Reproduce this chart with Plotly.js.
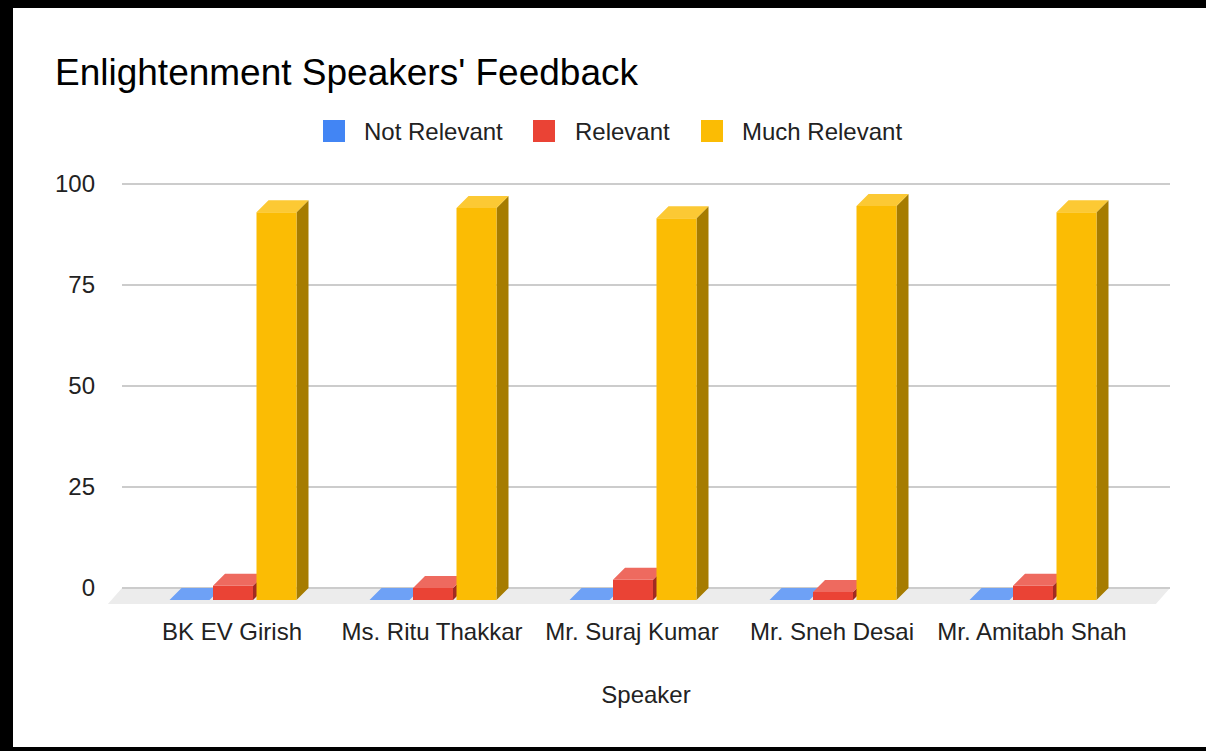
<!DOCTYPE html>
<html>
<head>
<meta charset="utf-8">
<script src="https://cdn.plot.ly/plotly-3.0.1.min.js"></script>
<style>
  html, body { margin: 0; padding: 0; background: #000; width: 1206px; height: 751px; overflow: hidden; }
  #chart { position: absolute; left: 13px; top: 8px; width: 1193px; height: 739px; background: #fff; }
</style>
</head>
<body>
<div id="chart"></div>
<script>
// ---- data ----
const speakers = ['BK EV Girish', 'Ms. Ritu Thakkar', 'Mr. Suraj Kumar', 'Mr. Sneh Desai', 'Mr. Amitabh Shah'];
const seriesNames = ['Not Relevant', 'Relevant', 'Much Relevant'];
const notRelevant = [0, 0, 0, 0, 0];
const relevant = [3.5, 3, 5, 2, 3.5];
const muchRelevant = [96, 97, 94.5, 97.5, 96];
const yTicks = [0, 25, 50, 75, 100];

// ---- style ----
const FONT = 'Liberation Sans, Arial, sans-serif';
const faceColors = [
  { front: '#4285F4', top: '#6ea1f6', side: '#2c5eb6' },
  { front: '#EA4335', top: '#ee6a5f', side: '#a12a22' },
  { front: '#FBBC04', top: '#fcc934', side: '#a67c00' }
];
// plot area in page pixels
const PX_L = 122, PX_R = 1170, PY_T = 180, PY_B = 604;
const X_RANGE = [-0.55, 4.69];
const PX_PER_UNIT_Y = 4.04;
const Y_RANGE = [-(PY_B - 588) / PX_PER_UNIT_Y, 100 + (184 - PY_T) / PX_PER_UNIT_Y];
const W = 0.2;                  // bar width (category units)
const OFFS = [-0.2175, 0, 0.2175];
const SHIFT = 0.005;
const DX = 12 / 200;            // depth in x units
const D = 12 / PX_PER_UNIT_Y;   // depth in y units

const px2x = p => (p - PX_L) / (PX_R - PX_L);
const py2y = p => (PY_B - p) / (PY_B - PY_T);

const series = [notRelevant, relevant, muchRelevant];
const traces = [];
series.forEach((vals, s) => {
  const fx = [], fy = [], tx = [], ty = [], sx = [], sy = [];
  vals.forEach((v, i) => {
    const xl = i + SHIFT + OFFS[s] - W / 2, xr = xl + W;
    sx.push(xr, xr + DX, xr + DX, xr, xr, null);
    sy.push(-D, 0, v, v - D, -D, null);
    fx.push(xl, xr, xr, xl, xl, null);
    fy.push(-D, -D, v - D, v - D, -D, null);
    tx.push(xl, xr, xr + DX, xl + DX, xl, null);
    ty.push(v - D, v - D, v, v, v - D, null);
  });
  const base = { type: 'scatter', mode: 'none', fill: 'toself', showlegend: false, hoverinfo: 'skip', name: seriesNames[s] };
  traces.push(Object.assign({}, base, { x: sx, y: sy, fillcolor: faceColors[s].side }));
  traces.push(Object.assign({}, base, { x: fx, y: fy, fillcolor: faceColors[s].front }));
  traces.push(Object.assign({}, base, { x: tx, y: ty, fillcolor: faceColors[s].top }));
});

// floor + baseline
const shapes = [
  { type: 'path', xref: 'paper', yref: 'y', layer: 'below',
    path: `M 0,0 L 1,0 L ${px2x(1155)},${-(605 - 588) / PX_PER_UNIT_Y} L ${px2x(107)},${-(605 - 588) / PX_PER_UNIT_Y} Z`,
    fillcolor: '#ececec', line: { width: 0 } },
  { type: 'line', xref: 'paper', yref: 'y', layer: 'below', x0: 0, x1: 1, y0: 0, y1: 0,
    line: { color: '#444444', width: 2 } }
];

// legend (manual, large squares)
const legendSquares = [323, 533, 701];
const legendTexts = [362, 573, 740];
const annotations = [];
seriesNames.forEach((n, s) => {
  shapes.push({ type: 'rect', xref: 'paper', yref: 'paper',
    x0: px2x(legendSquares[s]), x1: px2x(legendSquares[s] + 22),
    y0: py2y(142), y1: py2y(120),
    fillcolor: faceColors[s].front, line: { width: 0 } });
  annotations.push({ xref: 'paper', yref: 'paper', x: px2x(legendTexts[s]), y: py2y(131),
    xanchor: 'left', yanchor: 'middle', showarrow: false, text: n,
    font: { family: FONT, size: 24, color: '#222222' } });
});

const layout = {
  width: 1193, height: 739,
  margin: { l: PX_L - 13, r: 1193 - (PX_R - 13), t: PY_T - 8, b: 739 - (PY_B - 8), autoexpand: false },
  paper_bgcolor: '#ffffff', plot_bgcolor: '#ffffff',
  showlegend: false,
  title: { text: "Enlightenment Speakers' Feedback", xref: 'container', yref: 'container',
    x: (55 - 13) / 1193, xanchor: 'left', y: 1 - (72 - 8) / 739, yanchor: 'middle',
    font: { family: FONT, size: 37, color: '#000000' } },
  xaxis: { type: 'linear', range: X_RANGE, tickvals: speakers.map((_, i) => i), ticktext: speakers,
    showgrid: false, zeroline: false, showline: false, ticks: '', ticklabelstandoff: 11,
    tickfont: { family: FONT, size: 24, color: '#222222' }, fixedrange: true,
    title: { text: 'Speaker', standoff: 42, font: { family: FONT, size: 24, color: '#222222' } } },
  yaxis: { range: Y_RANGE, tickvals: yTicks, showgrid: true, gridcolor: '#cccccc', gridwidth: 1.5,
    zeroline: false, showline: false, ticks: '', ticklabelstandoff: 26,
    tickfont: { family: FONT, size: 24, color: '#222222' }, fixedrange: true },
  shapes: shapes,
  annotations: annotations
};

Plotly.newPlot('chart', traces, layout, { displayModeBar: false, staticPlot: true });
</script>
</body>
</html>
